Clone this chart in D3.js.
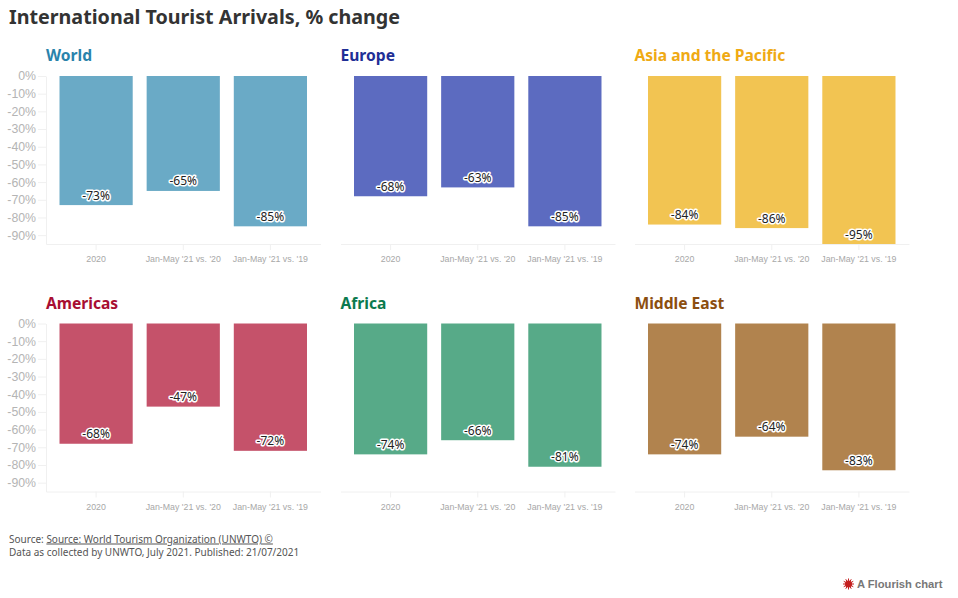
<!DOCTYPE html>
<html lang="en">
<head>
	<title>International Tourist Arrivals</title>
	<script src="https://d3js.org/d3.v7.min.js" charset="utf-8"></script>
	<style>
		html, body { margin: 0; padding: 0; background: #fff; }
		svg { display: block; font-family: "Noto Sans", sans-serif; }
		.title { font-size: 19.7px; font-weight: 700; fill: #333; }
		.panel-title { font-size: 15.6px; font-weight: 700; }
		.y-axis text { font-size: 12.3px; fill: #b4b4b4; }
		.x-axis text { font-size: 8.8px; fill: #a8a8a8; }
		.y-axis line, .x-axis line, .y-axis path, .x-axis path { stroke: #f0f0f0; }
		.value { font-size: 12px; fill: #222; text-anchor: middle; paint-order: stroke; stroke: #fff; stroke-width: 3px; stroke-linejoin: round; }
		.source { font-size: 10px; fill: #555; }
		.brand { font-family: "Liberation Sans", sans-serif; font-size: 11.2px; font-weight: 700; fill: #777; }
	</style>
</head>
<body>
	<script>
		var width = 958;
		var height = 598;

		var categories = ["2020", "Jan-May '21 vs. '20", "Jan-May '21 vs. '19"];
		var yTicks = [0, -10, -20, -30, -40, -50, -60, -70, -80, -90];

		var regions = ["World", "Europe", "Asia and the Pacific", "Americas", "Africa", "Middle East"];
		var world = [-73, -65, -85];
		var europe = [-68, -63, -85];
		var asia = [-84, -86, -95];
		var americas = [-68, -47, -72];
		var africa = [-74, -66, -81];
		var middleEast = [-74, -64, -83];
		var seriesValues = [world, europe, asia, americas, africa, middleEast];

		var barColors = ["#6aaac6", "#5c6bc0", "#f2c452", "#c5526a", "#57aa88", "#b1834e"];
		var titleColors = ["#2a83ab", "#1f2f96", "#efaa14", "#a80e32", "#0b7a4e", "#8c4e10"];

		var panelLeft = [46, 340.5, 634.5];
		var panelTop = [76, 323.5];
		var panelWidth = 274.5;
		var panelHeight = 168;

		var svg = d3.select("body")
			.append("svg")
			.attr("width", width)
			.attr("height", height);

		svg.append("text")
			.attr("class", "title")
			.attr("x", 9)
			.attr("y", 24)
			.text("International Tourist Arrivals, % change");

		var x = d3.scaleBand()
			.domain(categories)
			.range([0, panelWidth])
			.paddingInner(0.16)
			.paddingOuter(0.155);

		var y = d3.scaleLinear()
			.domain([0, -95])
			.range([0, panelHeight]);

		regions.forEach(function(name, i) {
			var g = svg.append("g")
				.attr("transform", "translate(" + panelLeft[i % 3] + "," + panelTop[Math.floor(i / 3)] + ")");

			g.append("text")
				.attr("class", "panel-title")
				.attr("x", 0)
				.attr("y", -15)
				.attr("fill", titleColors[i])
				.text(name);

			// only the first column carries the y axis
			if (i % 3 === 0) {
				var yAxis = d3.axisLeft(y)
					.tickValues(yTicks)
					.tickSize(8)
					.tickSizeOuter(0)
					.tickPadding(2)
					.tickFormat(function(d) { return d + "%"; });
				g.append("g").attr("class", "y-axis").call(yAxis);
			}

			var xAxis = d3.axisBottom(x)
				.tickSize(6)
				.tickSizeOuter(0)
				.tickPadding(6);
			g.append("g")
				.attr("class", "x-axis")
				.attr("transform", "translate(0," + panelHeight + ")")
				.call(xAxis);

			g.selectAll(".bar")
				.data(seriesValues[i])
				.enter()
				.append("rect")
				.attr("class", "bar")
				.attr("x", function(d, j) { return x(categories[j]); })
				.attr("y", 0)
				.attr("width", x.bandwidth())
				.attr("height", function(d) { return y(d); })
				.attr("fill", barColors[i]);

			g.selectAll(".value")
				.data(seriesValues[i])
				.enter()
				.append("text")
				.attr("class", "value")
				.attr("x", function(d, j) { return x(categories[j]) + x.bandwidth() / 2; })
				.attr("y", function(d) { return y(d) - 5.5; })
				.text(function(d) { return d + "%"; });
		});

		// source lines
		var source = svg.append("text").attr("class", "source").attr("x", 9).attr("y", 542.5);
		source.append("tspan").text("Source: ");
		source.append("tspan").attr("text-decoration", "underline").text("Source: World Tourism Organization (UNWTO) ©");
		svg.append("text").attr("class", "source").attr("x", 9).attr("y", 556)
			.text("Data as collected by UNWTO, July 2021. Published: 21/07/2021");

		// Flourish badge
		var badge = svg.append("g").attr("transform", "translate(848.5,584)");
		badge.append("circle").attr("r", 3.5).attr("fill", "#c41f1f");
		d3.range(12).forEach(function(k) {
			var a = k * Math.PI / 6;
			badge.append("line")
				.attr("x2", 5.5 * Math.cos(a))
				.attr("y2", 5.5 * Math.sin(a))
				.attr("stroke", "#c41f1f")
				.attr("stroke-width", 1);
		});
		svg.append("text").attr("class", "brand").attr("x", 857).attr("y", 588).text("A Flourish chart");
	</script>
</body>
</html>
